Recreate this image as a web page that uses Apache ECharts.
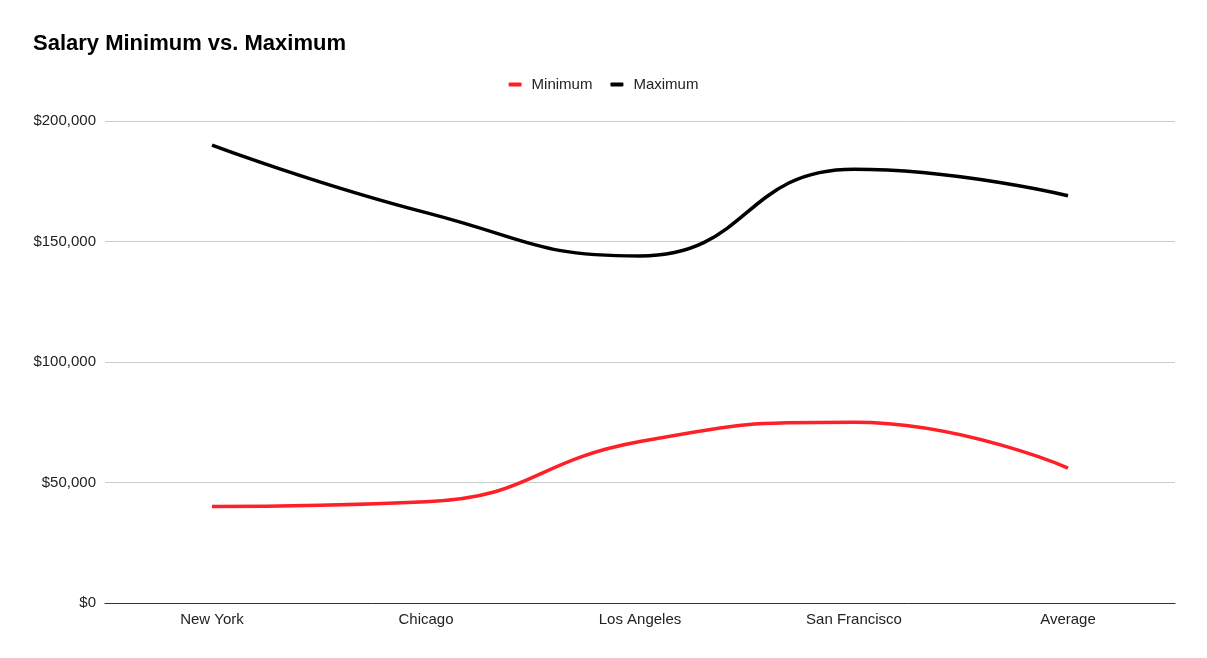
<!DOCTYPE html>
<html>
<head>
<meta charset="utf-8">
<script src="https://cdn.jsdelivr.net/npm/echarts@6/dist/echarts.min.js"></script>
<style>
html,body{margin:0;padding:0;background:#fff;}
#chart{width:1207px;height:658px;}
</style>
</head>
<body>
<div id="chart"></div>
<script>
const categories = ['New York', 'Chicago', 'Los Angeles', 'San Francisco', 'Average'];
const minimumValues = [40000, 42000, 67000, 75000, 56000];
const maximumValues = [190000, 162000, 144000, 180000, 169000];
const yTicks = [0, 50000, 100000, 150000, 200000];

const chart = echarts.init(document.getElementById('chart'));
const fontFamily = 'Liberation Sans, Arial, sans-serif';
chart.setOption({
  animation: false,
  backgroundColor: '#ffffff',
  title: {
    text: 'Salary Minimum vs. Maximum',
    left: 28,
    top: 28,
    textStyle: { fontFamily, fontSize: 22, fontWeight: 'bold', color: '#000' }
  },
  legend: {
    top: 72,
    left: 'center',
    icon: 'roundRect',
    itemWidth: 13,
    itemHeight: 4,
    itemGap: 18,
    textStyle: { fontFamily, fontSize: 15, color: '#222', padding: [0, 0, 0, 5] },
    data: ['Minimum', 'Maximum']
  },
  grid: { left: 105, right: 32, top: 121, bottom: 55, containLabel: false },
  xAxis: {
    type: 'category',
    data: categories,
    boundaryGap: true,
    axisLine: { lineStyle: { color: '#333', width: 1 } },
    axisTick: { show: false },
    axisLabel: { fontFamily, fontSize: 15, color: '#222', margin: 9 }
  },
  yAxis: {
    type: 'value',
    min: yTicks[0],
    max: yTicks[yTicks.length - 1],
    interval: 50000,
    axisLine: { show: false },
    axisTick: { show: false },
    splitLine: { lineStyle: { color: '#cccccc', width: 1 } },
    axisLabel: {
      fontFamily, fontSize: 15, color: '#222', margin: 9,
      formatter: v => '$' + v.toLocaleString('en-US')
    }
  },
  series: [
    {
      name: 'Minimum', type: 'line', data: minimumValues, smooth: 0.5,
      showSymbol: false, symbol: 'none',
      lineStyle: { color: '#ff1f26', width: 3.5 }, itemStyle: { color: '#ff1f26' }
    },
    {
      name: 'Maximum', type: 'line', data: maximumValues, smooth: 0.5,
      showSymbol: false, symbol: 'none',
      lineStyle: { color: '#000000', width: 3.5 }, itemStyle: { color: '#000000' }
    }
  ]
});
</script>
</body>
</html>
